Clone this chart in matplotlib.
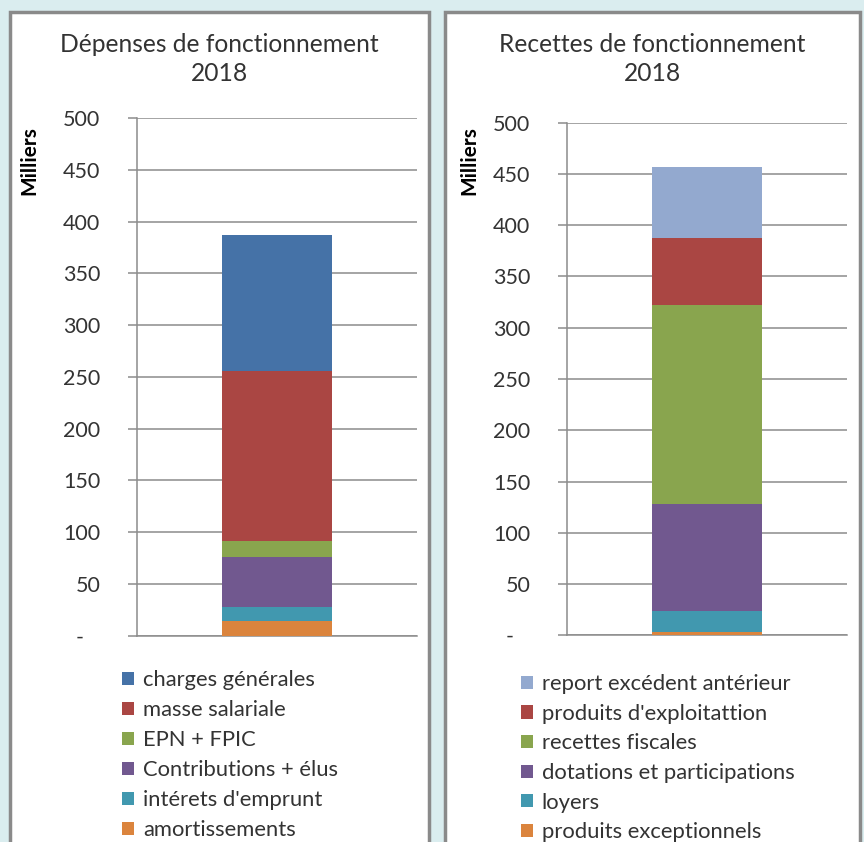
import matplotlib
matplotlib.use('Agg')
import matplotlib.pyplot as plt
from matplotlib.patches import Rectangle, Patch

plt.rcParams['font.family'] = ['Lato', 'DejaVu Sans']

# --- données (milliers d'euros), de bas en haut ---
dep_labels = ['amortissements', "intérets d'emprunt", 'Contributions + élus',
              'EPN + FPIC', 'masse salariale', 'charges générales']
dep_values = [14, 14, 48, 15, 165, 131]
dep_colors = ['#db843d', '#4198af', '#71588f', '#89a54e', '#aa4643', '#4572a7']

rec_labels = ['produits exceptionnels', 'loyers', 'dotations et participations',
              'recettes fiscales', "produits d'exploitattion", 'report excédent antérieur']
rec_values = [3, 21, 104, 194, 66, 69]
rec_colors = ['#db843d', '#4198af', '#71588f', '#89a54e', '#aa4643', '#93a9cf']

yticks = [0, 50, 100, 150, 200, 250, 300, 350, 400, 450, 500]
ytick_labels = ['-   '] + [str(v) for v in yticks[1:]]

W, H = 864, 842
fig = plt.figure(figsize=(W / 100, H / 100), dpi=100, facecolor='#daedef')


def fx(px):
    return px / W


def fy(py):
    return 1 - py / H


GRID = '#8c8c8c'


def panel(x0, x1, ax_x0, ax_x1, ax_ytop, ax_ybot, title, labels, values, colors,
          mil_x, leg_x, leg_y, leg_sp):
    fig.patches.append(Rectangle((fx(x0), fy(860)), fx(x1 - x0), fy(12) - fy(860),
                                 transform=fig.transFigure, facecolor='white',
                                 edgecolor='#8a8a8a', lw=2.5, zorder=-5))
    ax = fig.add_axes([fx(ax_x0), fy(ax_ybot), fx(ax_x1 - ax_x0), fy(ax_ytop) - fy(ax_ybot)])
    ax.set_zorder(2)
    ax.set_facecolor('white')
    bottom = 0
    for v, c in zip(values, colors):
        ax.bar(0, v, width=0.395, bottom=bottom, color=c, zorder=3)
        bottom += v
    ax.set_xlim(-0.5, 0.5)
    ax.set_ylim(0, 500)
    ax.set_yticks(yticks)
    ax.set_yticklabels(ytick_labels)
    ax.set_xticks([])
    ax.yaxis.grid(True, color=GRID, lw=1.1, zorder=0)
    for s in ('top', 'right'):
        ax.spines[s].set_visible(False)
    ax.spines['left'].set_color(GRID)
    ax.spines['bottom'].set_color(GRID)
    ax.spines['left'].set_linewidth(1.1)
    ax.spines['bottom'].set_linewidth(1.1)
    ax.tick_params(axis='y', length=6.5, color=GRID, width=1.1, pad=20,
                   labelsize=15.5, labelcolor='#333333')
    fig.text(fx((x0 + x1) / 2), fy(33), title, ha='center', va='top',
             fontsize=17.7, color='#333333', linespacing=1.32)
    fig.text(fx(mil_x), fy(126), 'Milliers', rotation=90, ha='center', va='top',
             fontsize=15, fontweight='bold', color='black')
    handles = [Patch(facecolor=c, label=l) for l, c in zip(labels, colors)][::-1]
    fig.legend(handles=handles, loc='upper left',
               bbox_to_anchor=(fx(leg_x), fy(leg_y)), frameon=False,
               fontsize=15.8, handlelength=0.55, handleheight=0.55,
               handletextpad=0.4, labelspacing=leg_sp, borderpad=0,
               borderaxespad=0, labelcolor='#333333')
    return ax


panel(10, 429, 137, 417, 118.3, 635.5, 'Dépenses de fonctionnement\n2018',
      dep_labels, dep_values, dep_colors, 29, 122, 670, 0.46)
panel(445, 860, 567, 847, 122.7, 635.3, 'Recettes de fonctionnement\n2018',
      rec_labels, rec_values, rec_colors, 469, 521, 674, 0.44)

fig.savefig('out.png', dpi=100, facecolor=fig.get_facecolor())
